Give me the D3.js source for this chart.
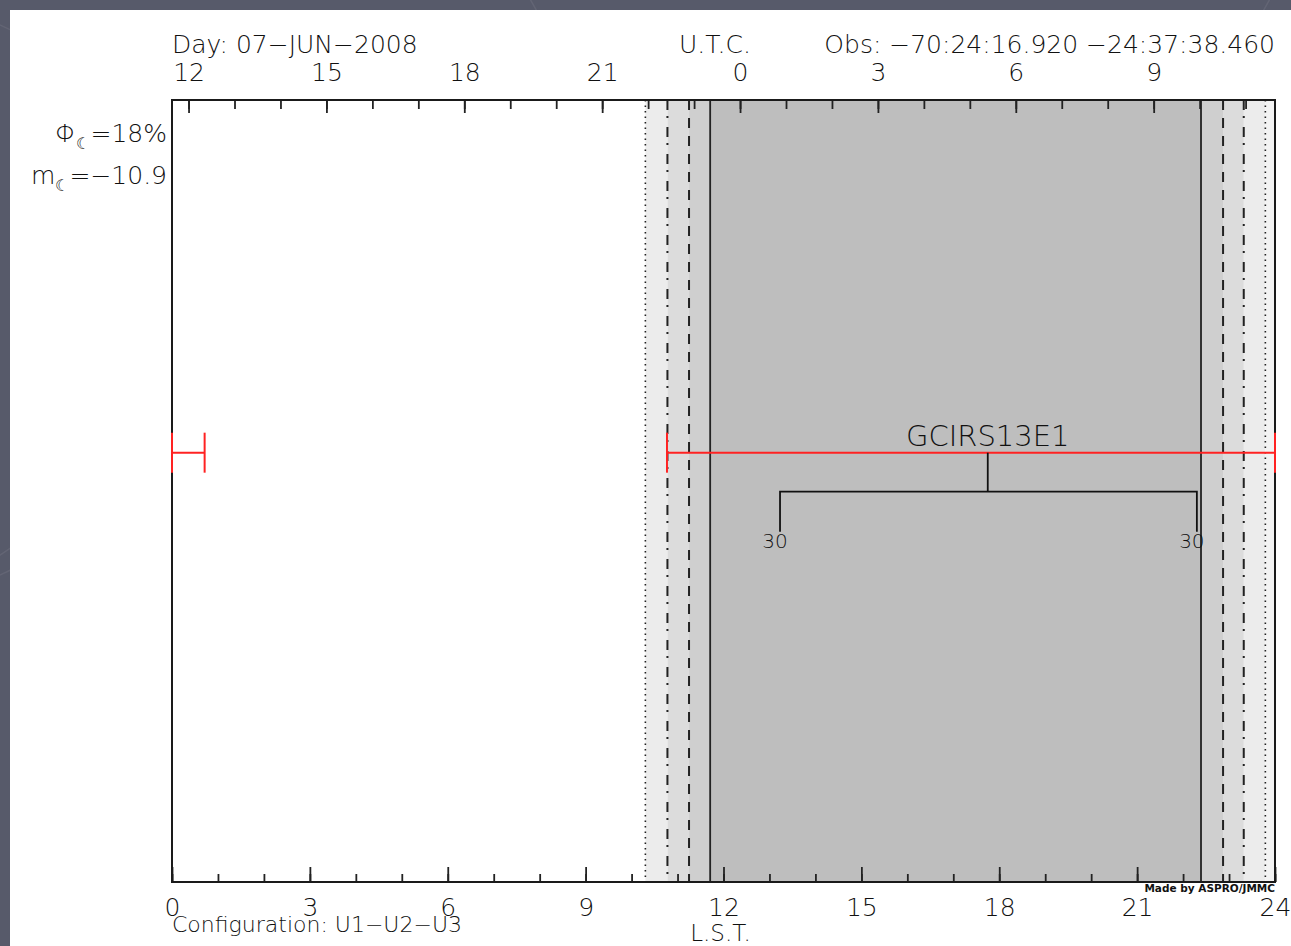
<!DOCTYPE html>
<html>
<head>
<meta charset="utf-8">
<script src="https://cdn.jsdelivr.net/npm/d3@7"></script>
<style>
  html, body { margin: 0; padding: 0; background: #575a6a; overflow: hidden; }
  svg text { font-family: 'DejaVu Sans', sans-serif; font-weight: 200; fill: #111; }
</style>
</head>
<body>
<svg id="chart"></svg>
<script>
// ---- data ----
const lstTicks = [0, 3, 6, 9, 12, 15, 18, 21, 24]
const lstHours = d3.range(0, 25)
const utcLabels = [12, 15, 18, 21, 0, 3, 6, 9]
const utcMidnightLst = 12.36          // LST at 0h UTC
const dayLabel = 'Day: 07\u2212JUN\u22122008'
const obsLabel = 'Obs: \u221270:24:16.920 \u221224:37:38.460'
const configLabel = 'Configuration: U1\u2212U2\u2212U3'
const moonLabels = ['18%', '\u221210.9']

// twilight limits (LST hours) and the line style used for each
const twilightEvening = [10.30, 10.78, 11.25, 11.71]
const twilightMorning = [22.39, 22.87, 23.32, 23.79]
const twilightStyles = ['dotted', 'dashdot', 'dashed', 'solid']
const twilightFills = ['#ececec', '#dcdcdc', '#cfcfcf', '#bebebe']

// target
const starName = 'GCIRS13E1'
const starRise = 10.77
const starSet = 0.71              // wraps past 24h
const starTransit = 17.75
const elevLimits = [13.23, 22.30]
const elevLabel = '30'
const starRow = 0.451

const width = 1291
const height = 946
const padLeft = 172, padRight = 16, padTop = 100, padBottom = 64

let svg = d3.select('#chart')
  .attr('width', width)
  .attr('height', height)

// slate backdrop with faint swirls, white sheet on top
svg.append('rect').attr('width', width).attr('height', height).attr('fill', '#575a6a')
let swirls = [[300, 980, 520], [900, -200, 420], [-120, 300, 300], [1250, 600, 380]]
swirls.forEach(s => {
  svg.append('circle').attr('cx', s[0]).attr('cy', s[1]).attr('r', s[2])
    .attr('fill', 'none').attr('stroke', '#6a6d7c').attr('stroke-width', 1.5).attr('opacity', 0.6)
})
svg.append('rect').attr('x', 10).attr('y', 10)
  .attr('width', width - 10).attr('height', height - 10).attr('fill', 'white')

let x = d3.scaleLinear().domain([0, 24]).range([padLeft, width - padRight])
let y = d3.scaleLinear().domain([0, 1]).range([padTop, height - padBottom])

// twilight bands
let bands = []
for (let i = 0; i < 3; i++) {
  bands.push({ a: twilightEvening[i], b: twilightEvening[i + 1], fill: twilightFills[i] })
  bands.push({ a: twilightMorning[2 - i], b: twilightMorning[3 - i], fill: twilightFills[i] })
}
bands.push({ a: twilightEvening[3], b: twilightMorning[0], fill: twilightFills[3] })
bands.push({ a: twilightMorning[3], b: 24, fill: '#f3f3f3' })

svg.append('g').selectAll('rect').data(bands).join('rect')
  .attr('x', d => x(d.a))
  .attr('width', d => x(d.b) - x(d.a))
  .attr('y', y(0))
  .attr('height', y(1) - y(0))
  .attr('fill', d => d.fill)

let dashes = { dotted: '1.6,3.9', dashdot: '10,6,2,9', dashed: '10,8', solid: null }
let limits = twilightEvening.map((v, i) => ({ v: v, s: twilightStyles[i] }))
  .concat(twilightMorning.map((v, i) => ({ v: v, s: twilightStyles[3 - i] })))
svg.append('g').selectAll('line').data(limits).join('line')
  .attr('x1', d => x(d.v)).attr('x2', d => x(d.v))
  .attr('y1', y(0)).attr('y2', y(1))
  .attr('stroke', '#222')
  .attr('stroke-width', d => d.s === 'solid' ? 1.8 : (d.s === 'dotted' ? 1.6 : 2))
  .attr('stroke-dasharray', d => dashes[d.s])

// bottom LST axis, ticks drawn inward
svg.append('g')
  .attr('transform', 'translate(0,' + y(1) + ')')
  .call(d3.axisBottom(x).tickValues(lstHours).tickSize(-8).tickFormat(''))
  .call(g => g.select('.domain').remove())
svg.append('g')
  .attr('class', 'xAxis')
  .attr('transform', 'translate(0,' + y(1) + ')')
  .call(d3.axisBottom(x).tickValues(lstTicks).tickSize(-15).tickPadding(16).tickFormat(d3.format('d')))
  .call(g => g.select('.domain').remove())

// top UTC axis, same scale but shifted hours
let utcX = h => ((h + utcMidnightLst) % 24 + 24) % 24
let utcHours = d3.range(0, 24).map(utcX).filter(v => v > 0 && v < 24)
let utcMajor = utcLabels.map(utcX)
svg.append('g')
  .attr('transform', 'translate(0,' + y(0) + ')')
  .call(d3.axisTop(x).tickValues(utcHours).tickSize(-9).tickFormat(''))
  .call(g => g.select('.domain').remove())
svg.append('g')
  .attr('class', 'tAxis')
  .attr('transform', 'translate(0,' + y(0) + ')')
  .call(d3.axisTop(x).tickValues(utcMajor).tickSize(-13).tickPadding(19)
    .tickFormat(v => utcLabels[utcMajor.indexOf(v)]))
  .call(g => g.select('.domain').remove())

svg.selectAll('.tick line').attr('stroke', '#222').attr('stroke-width', 1.8)
svg.selectAll('.tick text').attr('font-size', 25).style('font-family', "'DejaVu Sans', sans-serif")
  .style('font-weight', 200).attr('fill', '#111')

// frame
svg.append('rect')
  .attr('x', x(0)).attr('y', y(0))
  .attr('width', x(24) - x(0)).attr('height', y(1) - y(0))
  .attr('fill', 'none').attr('stroke', '#1a1a1a').attr('stroke-width', 2)

// observability bar (wraps at 24h)
let ry = y(starRow)
let segs = [[starRise, 24], [0, starSet]]
let red = svg.append('g').attr('stroke', '#f22').attr('stroke-width', 2)
segs.forEach(s => {
  red.append('line').attr('x1', x(s[0])).attr('x2', x(s[1])).attr('y1', ry).attr('y2', ry)
  red.append('line').attr('x1', x(s[0])).attr('x2', x(s[0])).attr('y1', ry - 20).attr('y2', ry + 20)
  red.append('line').attr('x1', x(s[1])).attr('x2', x(s[1])).attr('y1', ry - 20).attr('y2', ry + 20)
})

// transit and elevation bracket
let br = svg.append('g').attr('stroke', '#111').attr('stroke-width', 1.8).attr('fill', 'none')
br.append('path')
  .attr('d', d3.line()([[x(starTransit), ry], [x(starTransit), ry + 39]]))
br.append('path')
  .attr('d', d3.line()([[x(elevLimits[0]), ry + 79], [x(elevLimits[0]), ry + 39],
    [x(elevLimits[1]), ry + 39], [x(elevLimits[1]), ry + 79]]))

svg.append('text')
  .attr('x', x(starTransit)).attr('y', ry - 7)
  .attr('text-anchor', 'middle').attr('font-size', 29)
  .text(starName)
elevLimits.forEach(v => {
  svg.append('text')
    .attr('x', x(v) - 5).attr('y', ry + 95)
    .attr('text-anchor', 'middle').attr('font-size', 20)
    .text(elevLabel)
})

// header and footer texts
svg.append('text').attr('x', x(0)).attr('y', 53).attr('font-size', 25).text(dayLabel)
svg.append('text').attr('x', 715).attr('y', 53).attr('font-size', 25).attr('text-anchor', 'middle').text('U.T.C.')
svg.append('text').attr('x', x(24)).attr('y', 53).attr('font-size', 25).attr('text-anchor', 'end').text(obsLabel)
svg.append('text').attr('x', x(0)).attr('y', 932).attr('font-size', 22).text(configLabel)
svg.append('text').attr('x', x(12) - 3).attr('y', 941).attr('font-size', 23).attr('text-anchor', 'middle').text('L.S.T.')

// moon info on the left
let m1 = svg.append('text').attr('x', 167).attr('y', 142).attr('font-size', 25).attr('text-anchor', 'end')
m1.append('tspan').text('\u03a6')
m1.append('tspan').attr('font-size', 16).attr('dy', 7).text('\u263e')
m1.append('tspan').attr('dy', -7).text('=' + moonLabels[0])
let m2 = svg.append('text').attr('x', 167).attr('y', 184).attr('font-size', 25).attr('text-anchor', 'end')
m2.append('tspan').text('m')
m2.append('tspan').attr('font-size', 16).attr('dy', 7).text('\u263e')
m2.append('tspan').attr('dy', -7).text('=' + moonLabels[1])

// credit
svg.append('text').attr('x', x(24)).attr('y', 892).attr('font-size', 10.5)
  .attr('text-anchor', 'end').style('font-weight', 'bold').text('Made by ASPRO/JMMC')
</script>
</body>
</html>
